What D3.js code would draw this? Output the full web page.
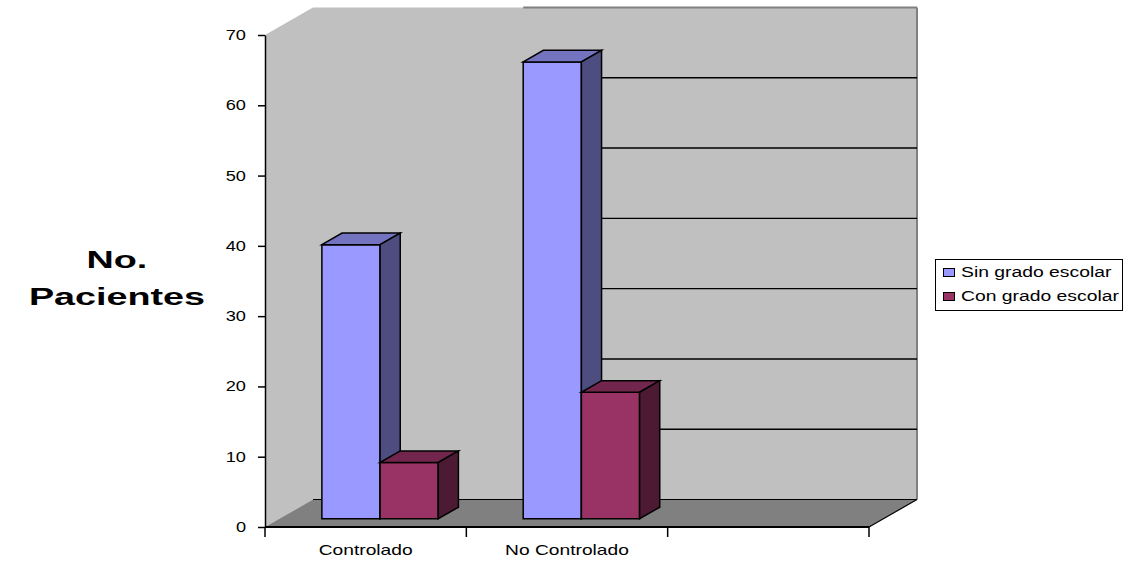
<!DOCTYPE html>
<html>
<head>
<meta charset="utf-8">
<script src="https://cdn.jsdelivr.net/npm/d3@7"></script>
<style>
  body { margin: 0; background: #fff; }
  svg { display: block; }
</style>
</head>
<body>
<svg id="chart" width="1130" height="561"></svg>
<script>
// Patients by control status and schooling
const categories = ["Controlado", "No Controlado", ""];
const seriesNames = ["Sin grado escolar", "Con grado escolar"];
const sinGradoEscolar = [39, 65, null];
const conGradoEscolar = [8, 18, null];
const yTickValues = [0, 10, 20, 30, 40, 50, 60, 70];
const axisTitle = ["No.", "Pacientes"];

const seriesValues = [sinGradoEscolar, conGradoEscolar];
const colors = {
  "Sin grado escolar": { front: "#9999ff", top: "#7373c0", side: "#4d4d80" },
  "Con grado escolar": { front: "#993366", top: "#73264d", side: "#4d1a33" }
};

const FONT = "'Liberation Sans', Arial, Helvetica, sans-serif";
const svg = d3.select("#chart");

// Oblique 3D projection: front plane x/value plus a depth fraction f (0 = front, 1 = back wall)
const DX = 48, DY = 27.5;
const F0 = 0.3, F1 = 0.72;            // bar depth span
const x = d3.scaleBand().domain(categories).range([265, 869]);
const xs = d3.scaleBand().domain(seriesNames).range([0, x.bandwidth()]).paddingOuter(0.73);
const y = d3.scaleLinear().domain([0, 70]).range([527, 35]);
const P = (px, v, f) => [px + f * DX, y(v) - f * DY];
const poly = pts => pts.map(p => p.join(",")).join(" ");

const xL = x.range()[0], xR = x.range()[1], vMax = y.domain()[1];

// Stretch text horizontally to the wide rendering of the labels
function stretch(sel, k) {
  sel.each(function () {
    const w = this.getComputedTextLength();
    if (w > 0) d3.select(this).attr("textLength", w * k).attr("lengthAdjust", "spacingAndGlyphs");
  });
}

// ---- walls and floor ----
svg.append("polygon")
  .attr("points", poly([P(xL, 0, 0), P(xL, vMax, 0), P(xL, vMax, 1), P(xL, 0, 1)]))
  .attr("fill", "#c0c0c0");
svg.append("polygon")
  .attr("points", poly([P(xL, 0, 1), P(xL, vMax, 1), P(xR, vMax, 1), P(xR, 0, 1)]))
  .attr("fill", "#c0c0c0");
svg.append("polygon")
  .attr("points", poly([P(xL, 0, 0), P(xR, 0, 0), P(xR, 0, 1), P(xL, 0, 1)]))
  .attr("fill", "#808080");

// back wall right edge
svg.append("line")
  .attr("x1", P(xR, 0, 1)[0]).attr("y1", P(xR, 0, 1)[1])
  .attr("x2", P(xR, vMax, 1)[0]).attr("y2", P(xR, vMax, 1)[1])
  .attr("stroke", "#808080").attr("stroke-width", 2);

// floor back edge and right edge
svg.append("line")
  .attr("x1", P(xL, 0, 1)[0]).attr("y1", P(xL, 0, 1)[1])
  .attr("x2", P(xR, 0, 1)[0]).attr("y2", P(xR, 0, 1)[1])
  .attr("stroke", "#000").attr("stroke-width", 1.2);
svg.append("line")
  .attr("x1", P(xR, 0, 0)[0]).attr("y1", P(xR, 0, 0)[1])
  .attr("x2", P(xR, 0, 1)[0]).attr("y2", P(xR, 0, 1)[1])
  .attr("stroke", "#000").attr("stroke-width", 1.2);

// ---- bars data ----
const bars = [];
categories.forEach((c, i) => {
  seriesNames.forEach((s, j) => {
    const v = seriesValues[j][i];
    if (v != null) bars.push({ cat: c, series: s, value: v });
  });
});
const bw = xs.bandwidth();
const barX = d => x(d.cat) + xs(d.series);

// gridlines on the back wall, visible to the right of the bars that reach them
yTickValues.filter(g => g > 0 && g < vMax).forEach(g => {
  const reach = bars.filter(d => d.value >= g);
  const startX = reach.length ? d3.max(reach, d => P(barX(d) + bw, g, F1)[0]) : P(xL, g, 1)[0];
  const yy = P(xR, g, 1)[1];
  svg.append("line")
    .attr("x1", startX).attr("x2", P(xR, g, 1)[0])
    .attr("y1", yy).attr("y2", yy)
    .attr("stroke", "#000").attr("stroke-width", 1.4);
});

// back wall top edge
const tallest = bars.reduce((a, b) => (b.value > a.value ? b : a));
svg.append("line")
  .attr("x1", P(barX(tallest), vMax, F0)[0]).attr("x2", P(xR, vMax, 1)[0])
  .attr("y1", P(xR, vMax, 1)[1]).attr("y2", P(xR, vMax, 1)[1])
  .attr("stroke", "#808080").attr("stroke-width", 2);

// ---- bars ----
const barG = svg.append("g")
  .attr("stroke", "#000").attr("stroke-width", 1.5).attr("stroke-linejoin", "miter");
bars.forEach(d => {
  const x0 = barX(d), x1 = x0 + bw, v = d.value, col = colors[d.series];
  barG.append("polygon")
    .attr("points", poly([P(x0, 0, F0), P(x0, v, F0), P(x1, v, F0), P(x1, 0, F0)]))
    .attr("fill", col.front);
  barG.append("polygon")
    .attr("points", poly([P(x0, v, F0), P(x0, v, F1), P(x1, v, F1), P(x1, v, F0)]))
    .attr("fill", col.top);
  barG.append("polygon")
    .attr("points", poly([P(x1, 0, F0), P(x1, v, F0), P(x1, v, F1), P(x1, 0, F1)]))
    .attr("fill", col.side);
});

// ---- y axis ----
const yAxis = svg.append("g")
  .attr("transform", `translate(${xL},0)`)
  .call(d3.axisLeft(y).tickValues(yTickValues).tickSize(7).tickSizeOuter(0).tickPadding(12));
yAxis.select(".domain").attr("stroke", "#000").attr("stroke-width", 1.5);
yAxis.selectAll(".tick line").attr("stroke", "#000").attr("stroke-width", 1.5);
yAxis.selectAll(".tick text")
  .attr("font-family", FONT).attr("font-size", 14).attr("fill", "#000")
  .call(stretch, 1.3);

// ---- x axis ----
const xAxis = svg.append("g");
xAxis.append("line")
  .attr("x1", xL).attr("x2", xR).attr("y1", y(0)).attr("y2", y(0))
  .attr("stroke", "#000").attr("stroke-width", 1.8);
const bounds = categories.map(c => x(c)).concat([xR]);
xAxis.selectAll("line.tick").data(bounds).join("line")
  .attr("class", "tick")
  .attr("x1", d => d).attr("x2", d => d)
  .attr("y1", y(0)).attr("y2", y(0) + 10)
  .attr("stroke", "#000").attr("stroke-width", 1.5);
xAxis.selectAll("text").data(categories.filter(c => c !== "")).join("text")
  .attr("x", d => x(d) + x.bandwidth() / 2)
  .attr("y", 555)
  .attr("text-anchor", "middle")
  .attr("font-family", FONT).attr("font-size", 15).attr("fill", "#000")
  .text(d => d)
  .call(stretch, 1.28);

// ---- axis title ----
svg.selectAll("text.ytitle").data(axisTitle).join("text")
  .attr("class", "ytitle")
  .attr("x", 117)
  .attr("y", (d, i) => 268 + i * 37)
  .attr("text-anchor", "middle")
  .attr("font-family", FONT).attr("font-size", 23).attr("font-weight", "bold").attr("fill", "#000")
  .text(d => d)
  .call(stretch, 1.64);

// ---- legend ----
const legend = svg.append("g");
legend.append("rect")
  .attr("x", 935.5).attr("y", 259.5).attr("width", 187).attr("height", 51)
  .attr("fill", "#fff").attr("stroke", "#000").attr("stroke-width", 1);
const li = legend.selectAll("g.item").data(seriesNames).join("g")
  .attr("class", "item")
  .attr("transform", (d, i) => `translate(0,${i * 24})`);
li.append("rect")
  .attr("x", 943.5).attr("y", 268.5).attr("width", 11).attr("height", 8)
  .attr("fill", d => colors[d].front).attr("stroke", "#000").attr("stroke-width", 1);
li.append("text")
  .attr("x", 961).attr("y", 277)
  .attr("font-family", FONT).attr("font-size", 14).attr("fill", "#000")
  .text(d => d)
  .call(stretch, 1.38);
</script>
</body>
</html>
